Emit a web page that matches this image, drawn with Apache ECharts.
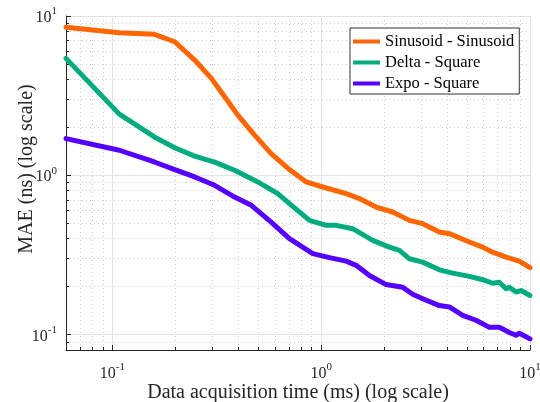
<!DOCTYPE html>
<html>
<head>
<meta charset="utf-8">
<script src="https://cdn.jsdelivr.net/npm/echarts@6/dist/echarts.min.js"></script>
<style>
  html, body { margin: 0; padding: 0; background: #fff; }
  #chart { width: 540px; height: 402px; }
</style>
</head>
<body>
<div id="chart"></div>
<script>
// Mean absolute error versus acquisition time, three signal/shape pairs
const seriesNames = ['Sinusoid - Sinusoid', 'Delta - Square', 'Expo - Square'];

const sinTime = [0.06, 0.108, 0.159, 0.199, 0.248, 0.298, 0.345, 0.399, 0.48, 0.576, 0.705, 0.848, 1.018, 1.317, 1.525, 1.833, 2.201, 2.646, 3.063, 3.681, 4.111, 5.124, 5.933, 6.624, 7.677, 8.888, 10];
const sinMae  = [8.49, 7.85, 7.67, 6.89, 5.29, 4.06, 3.11, 2.385, 1.785, 1.369, 1.086, 0.908, 0.844, 0.767, 0.714, 0.632, 0.588, 0.521, 0.497, 0.44, 0.43, 0.381, 0.354, 0.329, 0.306, 0.289, 0.263];

const deltaTime = [0.06, 0.108, 0.159, 0.199, 0.248, 0.309, 0.385, 0.497, 0.62, 0.705, 0.879, 1.057, 1.18, 1.416, 1.765, 2.122, 2.37, 2.646, 3.063, 3.681, 4.264, 5.124, 5.933, 6.624, 7.13, 7.677, 7.962, 8.57, 9.056, 10];
const deltaMae  = [5.42, 2.42, 1.74, 1.49, 1.32, 1.21, 1.075, 0.908, 0.767, 0.664, 0.521, 0.485, 0.485, 0.462, 0.39, 0.354, 0.338, 0.299, 0.285, 0.255, 0.243, 0.232, 0.221, 0.21, 0.213, 0.194, 0.198, 0.185, 0.189, 0.176];

const expoTime = [0.06, 0.108, 0.159, 0.199, 0.248, 0.309, 0.385, 0.463, 0.576, 0.705, 0.912, 1.096, 1.317, 1.471, 1.703, 2.046, 2.457, 2.744, 3.063, 3.681, 4.111, 4.759, 5.515, 6.388, 7.13, 7.962, 8.57, 8.888, 10];
const expoMae  = [1.70, 1.436, 1.212, 1.086, 0.976, 0.865, 0.730, 0.648, 0.508, 0.40, 0.322, 0.304, 0.289, 0.272, 0.235, 0.206, 0.198, 0.179, 0.168, 0.152, 0.149, 0.132, 0.123, 0.111, 0.111, 0.103, 0.099, 0.102, 0.094];

// Decade ticks and in-between (minor) ticks
const xMajorTicks = [0.1, 1, 10];
const xMinorTicks = [0.07, 0.08, 0.09, 0.2, 0.3, 0.4, 0.5, 0.6, 0.7, 0.8, 0.9, 2, 3, 4, 5, 6, 7, 8, 9];
const yMajorTicks = [0.1, 1, 10];
const yMinorTicks = [0.08, 0.09, 0.2, 0.3, 0.4, 0.5, 0.6, 0.7, 0.8, 0.9, 2, 3, 4, 5, 6, 7, 8, 9];

const X_MIN = 0.06, X_MAX = 10, Y_MIN = 0.08, Y_MAX = 10;

const colors = ['#ff6600', '#00ab80', '#5500ff'];
const FONT = '"Liberation Serif", "Times New Roman", serif';
const TEXT = '#262626';

function powLabel(v) {
  const e = Math.round(Math.log10(v));
  return '{b|10}{e|' + e + '}';
}
const powRich = {
  b: { fontFamily: FONT, fontSize: 16, color: TEXT, lineHeight: 20, verticalAlign: 'bottom' },
  e: { fontFamily: FONT, fontSize: 11, color: TEXT, lineHeight: 20, padding: [0, 0, 10, 0], verticalAlign: 'top' }
};

const chart = echarts.init(document.getElementById('chart'), null, { renderer: 'canvas' });

const pairs = (xs, ys) => xs.map((x, i) => [x, ys[i]]);

const option = {
  animation: false,
  backgroundColor: '#ffffff',
  grid: { left: 66, right: 10, top: 16, bottom: 52, outerBoundsMode: 'none', containLabel: false },
  legend: {
    orient: 'vertical',
    left: 350, top: 28,
    padding: [5, 5, 2, 3],
    itemWidth: 27, itemHeight: 4, itemGap: 4,
    icon: 'rect',
    borderColor: '#333333', borderWidth: 1, borderRadius: 0,
    backgroundColor: '#ffffff',
    textStyle: { fontFamily: FONT, fontSize: 16.5, color: '#000', lineHeight: 16 },
    data: seriesNames
  },
  xAxis: [
    {
      type: 'log', logBase: 10, min: X_MIN, max: X_MAX, position: 'bottom',
      name: 'Data acquisition time (ms) (log scale)', nameLocation: 'middle', nameGap: 33,
      nameMoveOverlap: false,
      nameTextStyle: { fontFamily: FONT, fontSize: 20, color: TEXT },
      axisLine: { show: true, lineStyle: { color: '#262626', width: 1 } },
      axisTick: { show: true, inside: true, length: 5, customValues: xMajorTicks, lineStyle: { color: '#262626' } },
      axisLabel: { show: true, customValues: xMajorTicks, margin: 12, formatter: powLabel, rich: powRich },
      splitLine: { show: true, lineStyle: { color: '#e3e3e3', width: 1, type: 'solid' } },
      minorTick: { show: false }
    },
    {
      type: 'log', logBase: 10, min: X_MIN, max: X_MAX, position: 'bottom',
      axisLine: { show: false },
      axisTick: { show: true, inside: true, length: 3, customValues: xMinorTicks, lineStyle: { color: '#262626' } },
      axisLabel: { show: false },
      splitLine: { show: true, lineStyle: { color: '#cfcfcf', width: 1, type: [1, 3] } }
    }
  ],
  yAxis: [
    {
      type: 'log', logBase: 10, min: Y_MIN, max: Y_MAX, position: 'left',
      name: 'MAE (ns) (log scale)', nameLocation: 'middle', nameGap: 29,
      nameMoveOverlap: false,
      nameTextStyle: { fontFamily: FONT, fontSize: 20, color: TEXT, padding: [0, 0, 0, 28] },
      axisLine: { show: true, lineStyle: { color: '#262626', width: 1 } },
      axisTick: { show: true, inside: true, length: 5, customValues: yMajorTicks, lineStyle: { color: '#262626' } },
      axisLabel: { show: true, customValues: yMajorTicks, margin: 9, formatter: powLabel, rich: powRich },
      splitLine: { show: true, lineStyle: { color: '#e3e3e3', width: 1, type: 'solid' } },
      minorTick: { show: false }
    },
    {
      type: 'log', logBase: 10, min: Y_MIN, max: Y_MAX, position: 'left',
      axisLine: { show: false },
      axisTick: { show: true, inside: true, length: 3, customValues: yMinorTicks, lineStyle: { color: '#262626' } },
      axisLabel: { show: false },
      splitLine: { show: true, lineStyle: { color: '#cfcfcf', width: 1, type: [1, 3] } }
    }
  ],
  series: [
    { name: seriesNames[0], type: 'line', xAxisIndex: 0, yAxisIndex: 0, data: pairs(sinTime, sinMae),
      showSymbol: false, symbol: 'none', lineStyle: { width: 5, color: colors[0], join: 'round', cap: 'round' }, itemStyle: { color: colors[0] } },
    { name: seriesNames[1], type: 'line', xAxisIndex: 0, yAxisIndex: 0, data: pairs(deltaTime, deltaMae),
      showSymbol: false, symbol: 'none', lineStyle: { width: 5, color: colors[1], join: 'round', cap: 'round' }, itemStyle: { color: colors[1] } },
    { name: seriesNames[2], type: 'line', xAxisIndex: 0, yAxisIndex: 0, data: pairs(expoTime, expoMae),
      showSymbol: false, symbol: 'none', lineStyle: { width: 5, color: colors[2], join: 'round', cap: 'round' }, itemStyle: { color: colors[2] } }
  ]
};

chart.setOption(option);
</script>
</body>
</html>
